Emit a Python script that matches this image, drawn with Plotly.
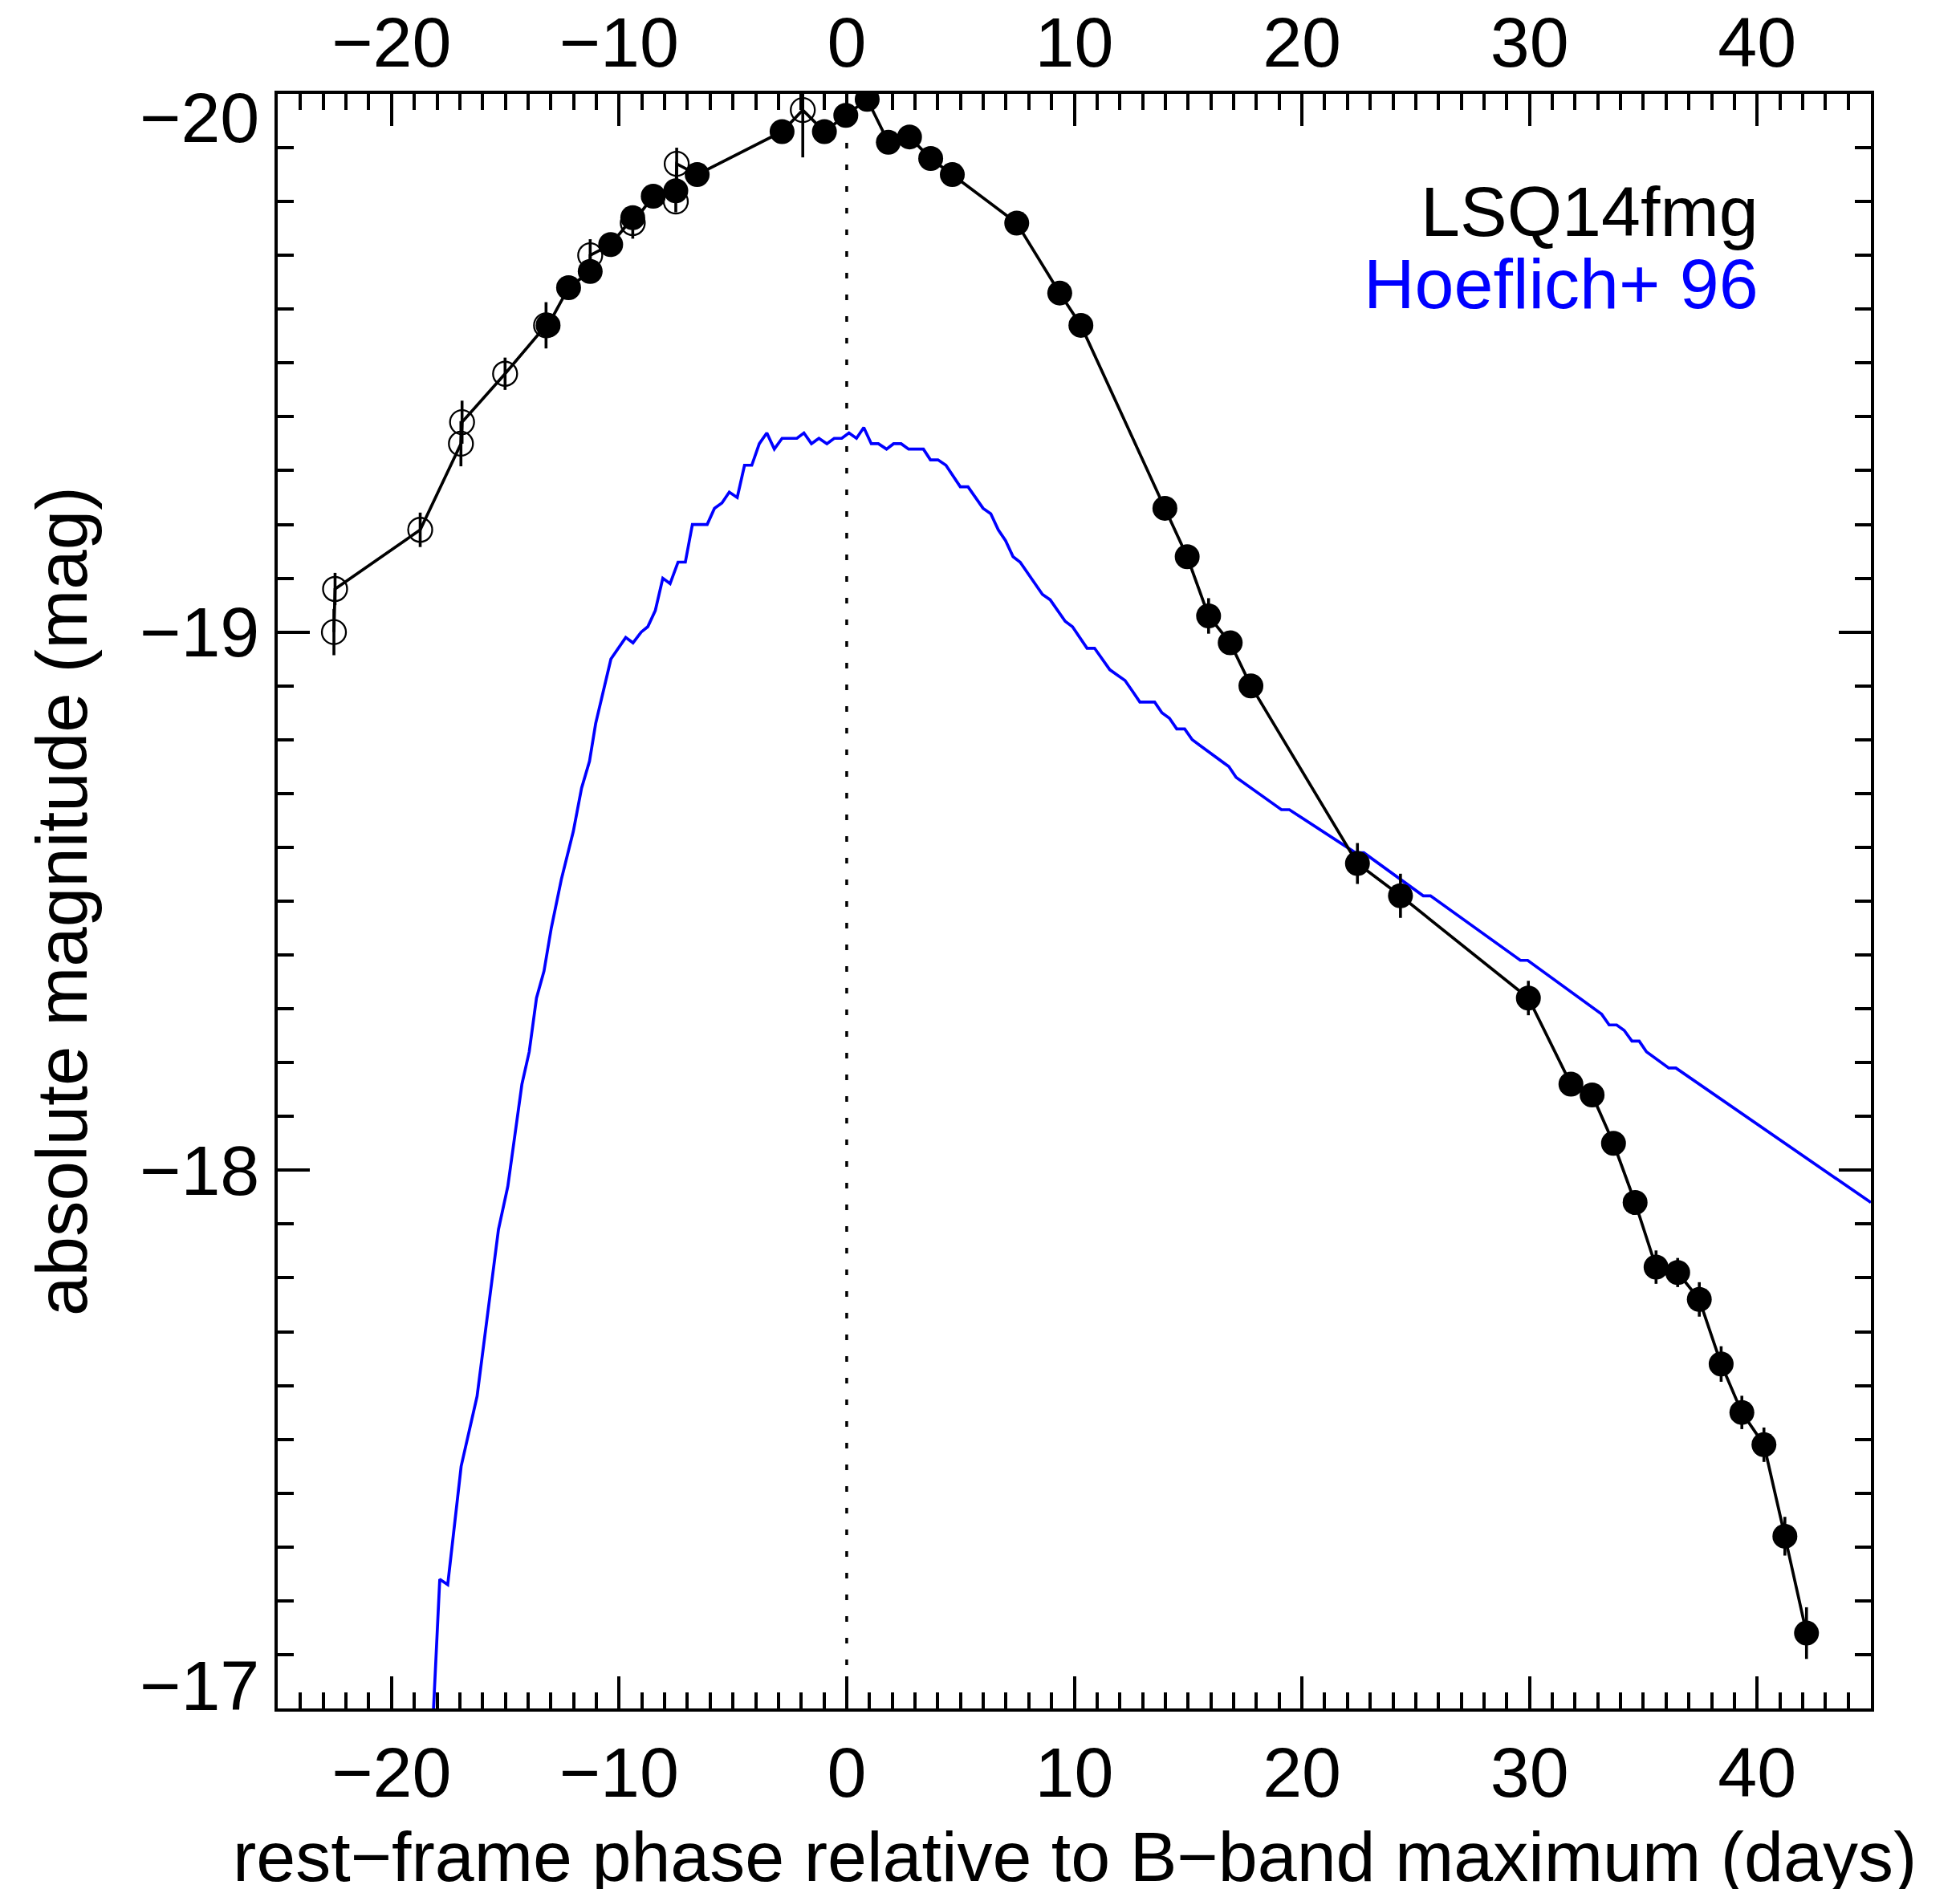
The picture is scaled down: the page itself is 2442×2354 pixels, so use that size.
import plotly.graph_objects as go

# ---------------- data ----------------
# LSQ14fmg, filled symbols
filled_phase = [-13.12, -12.22, -11.27, -10.37, -9.40, -8.50, -7.51, -6.57, -2.84, -0.98,
                -0.04, 0.90, 1.83, 2.76, 3.69, 4.64, 7.47, 9.36, 10.29, 13.98,
                14.96, 15.90, 16.85, 17.76, 22.44, 24.33, 29.95, 31.82, 32.75, 33.69,
                34.64, 35.56, 36.51, 37.46, 38.42, 39.33, 40.30, 41.22, 42.17]
filled_mag = [-19.57, -19.64, -19.67, -19.72, -19.77, -19.81, -19.82, -19.85, -19.93, -19.93,
              -19.96, -19.99, -19.91, -19.92, -19.88, -19.85, -19.76, -19.63, -19.57, -19.23,
              -19.14, -19.03, -18.98, -18.90, -18.57, -18.51, -18.32, -18.16, -18.14, -18.05,
              -17.94, -17.82, -17.81, -17.76, -17.64, -17.55, -17.49, -17.32, -17.14]
filled_err = [0.02, 0.015, 0.02, 0.015, 0.015, 0.02, 0.02, 0.015, 0.015, 0.015,
              0.015, 0.015, 0.015, 0.015, 0.015, 0.015, 0.015, 0.015, 0.015, 0.015,
              0.015, 0.033, 0.015, 0.015, 0.038, 0.041, 0.032, 0.015, 0.015, 0.02,
              0.022, 0.031, 0.027, 0.032, 0.033, 0.031, 0.032, 0.036, 0.048]

# LSQ14fmg, open symbols
open_phase = [-22.53, -22.48, -18.74, -16.95, -16.90, -15.01, -13.21, -11.27, -9.40, -7.51, -7.47, -1.93]
open_mag = [-19.00, -19.08, -19.19, -19.35, -19.39, -19.48, -19.57, -19.70, -19.76, -19.80, -19.87, -19.97]
open_err = [0.043, 0.03, 0.032, 0.042, 0.04, 0.03, 0.043, 0.03, 0.029, 0.02, 0.03, 0.088]

# Hoeflich+ 96 model
model_phase = [-18.21, -17.88, -17.53, -16.94, -16.24, -15.30, -14.89, -14.27, -13.95, -13.63,
               -13.30, -12.98, -12.54, -12.01, -11.65, -11.30, -11.03, -10.36, -9.71, -9.39,
               -9.03, -8.74, -8.41, -8.08, -7.76, -7.41, -7.09, -6.78, -6.13, -5.81,
               -5.48, -5.16, -4.81, -4.49, -4.17, -3.84, -3.51, -3.18, -2.84, -2.19,
               -1.88, -1.55, -1.22, -0.87, -0.55, -0.22, 0.10, 0.43, 0.75, 1.08,
               1.39, 1.75, 2.06, 2.39, 2.72, 3.37, 3.68, 4.01, 4.36, 4.68,
               4.99, 5.33, 5.66, 5.99, 6.33, 6.66, 6.98, 7.31, 7.62, 7.95,
               8.27, 8.60, 8.94, 9.27, 9.60, 9.92, 10.24, 10.56, 10.89, 11.23,
               11.56, 11.89, 12.23, 12.56, 12.88, 13.53, 13.85, 14.18, 14.50, 14.85,
               15.18, 15.50, 15.83, 16.14, 16.47, 16.79, 17.11, 17.44, 19.10, 19.45,
               22.35, 22.72, 25.33, 25.65, 29.60, 29.92, 33.17, 33.50, 33.83, 34.16,
               34.50, 34.82, 35.14, 36.12, 36.43, 45.00]
model_mag = [-16.95, -17.24, -17.23, -17.45, -17.58, -17.89, -17.97, -18.16, -18.22, -18.32,
             -18.37, -18.45, -18.54, -18.63, -18.71, -18.76, -18.83, -18.95, -18.99, -18.98,
             -19.00, -19.01, -19.04, -19.10, -19.09, -19.13, -19.13, -19.20, -19.20, -19.23,
             -19.24, -19.26, -19.25, -19.31, -19.31, -19.35, -19.37, -19.34, -19.36, -19.36,
             -19.37, -19.35, -19.36, -19.35, -19.36, -19.36, -19.37, -19.36, -19.38, -19.35,
             -19.35, -19.34, -19.35, -19.35, -19.34, -19.34, -19.32, -19.32, -19.31, -19.29,
             -19.27, -19.27, -19.25, -19.23, -19.22, -19.19, -19.17, -19.14, -19.13, -19.11,
             -19.09, -19.07, -19.06, -19.04, -19.02, -19.01, -18.99, -18.97, -18.97, -18.95,
             -18.93, -18.92, -18.91, -18.89, -18.87, -18.87, -18.85, -18.84, -18.82, -18.82,
             -18.80, -18.79, -18.78, -18.77, -18.76, -18.75, -18.73, -18.72, -18.67, -18.67,
             -18.59, -18.59, -18.51, -18.51, -18.39, -18.39, -18.29, -18.27, -18.27, -18.26,
             -18.24, -18.24, -18.22, -18.19, -18.19, -17.94]

x_tickvals = [-20, -10, 0, 10, 20, 30, 40]
x_ticktext = ["\u221220", "\u221210", "0", "10", "20", "30", "40"]
y_tickvals = [-20, -19, -18, -17]
y_ticktext = ["\u221220", "\u221219", "\u221218", "\u221217"]

x_range = [-25, 45]
y_range = [-17, -20]

FONT = "Liberation Sans, Arial, Helvetica, sans-serif"
FS = 88      # tick labels
FT = 88      # titles / legend

# ---------------- figure ----------------
fig = go.Figure()

# model curve
fig.add_trace(go.Scatter(x=model_phase, y=model_mag, mode="lines",
                         line=dict(color="#0000ff", width=3.7), hoverinfo="skip"))

# connecting line through all LSQ14fmg points in time order
pts = sorted(zip(filled_phase + open_phase, filled_mag + open_mag), key=lambda p: p[0])
fig.add_trace(go.Scatter(x=[p[0] for p in pts], y=[p[1] for p in pts], mode="lines",
                         line=dict(color="black", width=3.7), hoverinfo="skip"))

# open symbols
fig.add_trace(go.Scatter(x=open_phase, y=open_mag, mode="markers",
                         marker=dict(symbol="circle-open", size=30, color="black",
                                     line=dict(width=2.3, color="black")),
                         error_y=dict(type="data", array=open_err, color="black",
                                      thickness=3.6, width=0)))
# filled symbols
fig.add_trace(go.Scatter(x=filled_phase, y=filled_mag, mode="markers",
                         marker=dict(symbol="circle", size=31, color="black",
                                     line=dict(width=0)),
                         error_y=dict(type="data", array=filled_err, color="black",
                                      thickness=3.6, width=0)))

# dotted line at phase 0
fig.add_shape(type="line", xref="x", yref="paper", x0=0, x1=0, y0=0, y1=1,
              line=dict(color="black", width=3.5, dash="7px,20px"), layer="below")

axis_common = dict(showgrid=False, zeroline=False, showline=True, linecolor="black",
                   linewidth=4, ticks="inside", ticklen=40, tickwidth=3.5, tickcolor="black",
                   automargin=False)

# page body has an 8px margin: the figure is made 8px smaller so it fits the window
fig.update_layout(
    width=2434, height=2346,
    margin=dict(l=338, r=111, t=109, b=225),
    plot_bgcolor="white", paper_bgcolor="white",
    showlegend=False,
    font=dict(family=FONT, size=FS, color="black"),
    xaxis=dict(range=x_range, tickmode="array", tickvals=x_tickvals, ticktext=x_ticktext,
               side="bottom", tickfont=dict(size=FS),
               minor=dict(tickmode="linear", tick0=0, dtick=1, ticks="inside",
                          ticklen=20, tickwidth=3.5, tickcolor="black", showgrid=False),
               **axis_common),
    xaxis2=dict(range=x_range, tickmode="array", tickvals=x_tickvals, ticktext=x_ticktext,
                side="top", overlaying="x", anchor="y", tickfont=dict(size=FS),
                ticklabelstandoff=-5,
                minor=dict(tickmode="linear", tick0=0, dtick=1, ticks="inside",
                           ticklen=20, tickwidth=3.5, tickcolor="black", showgrid=False),
                **axis_common),
    yaxis=dict(range=y_range, tickmode="array", tickvals=y_tickvals, showticklabels=False,
               side="left",
               minor=dict(tickmode="linear", tick0=-20, dtick=0.1, ticks="inside",
                          ticklen=20, tickwidth=3.5, tickcolor="black", showgrid=False),
               **axis_common),
    yaxis2=dict(range=y_range, tickmode="array", tickvals=y_tickvals, showticklabels=False,
                side="right", overlaying="y", anchor="x",
                minor=dict(tickmode="linear", tick0=-20, dtick=0.1, ticks="inside",
                           ticklen=20, tickwidth=3.5, tickcolor="black", showgrid=False),
                **axis_common),
)

# dummy invisible trace so that secondary axes are drawn
fig.add_trace(go.Scatter(x=[], y=[], xaxis="x2", yaxis="y2", mode="markers", hoverinfo="skip"))

annotations = []
# y tick labels (end labels nudged inside the frame, as in the original)
yshifts = {-20: -29, -19: 0, -18: 0, -17: 29}
for v, t in zip(y_tickvals, y_ticktext):
    annotations.append(dict(text=t, xref="paper", x=0, yref="y", y=v, xanchor="right",
                            yanchor="middle", xshift=-21, yshift=yshifts[v], showarrow=False,
                            font=dict(size=FS, family=FONT, color="black")))
# axis titles
annotations.append(dict(text="rest\u2212frame phase relative to B\u2212band maximum (days)",
                        xref="paper", yref="paper", x=0.5, y=-0.0915, xanchor="center",
                        yanchor="middle", showarrow=False, font=dict(size=FT, family=FONT)))
annotations.append(dict(text="absolute magnitude (mag)", xref="paper", yref="paper",
                        x=-0.1355, y=0.5, xanchor="center", yanchor="middle", textangle=-90,
                        showarrow=False, font=dict(size=89, family=FONT)))
# legend texts
annotations.append(dict(text="LSQ14fmg", xref="paper", yref="paper", x=0.9304, y=0.927,
                        xanchor="right", yanchor="middle", showarrow=False,
                        font=dict(size=FT, family=FONT, color="black")))
annotations.append(dict(text="Hoeflich+ 96", xref="paper", yref="paper", x=0.9304, y=0.8825,
                        xanchor="right", yanchor="middle", showarrow=False,
                        font=dict(size=FT, family=FONT, color="#0000ff")))
fig.update_layout(annotations=annotations)

fig.write_html("out.html")
